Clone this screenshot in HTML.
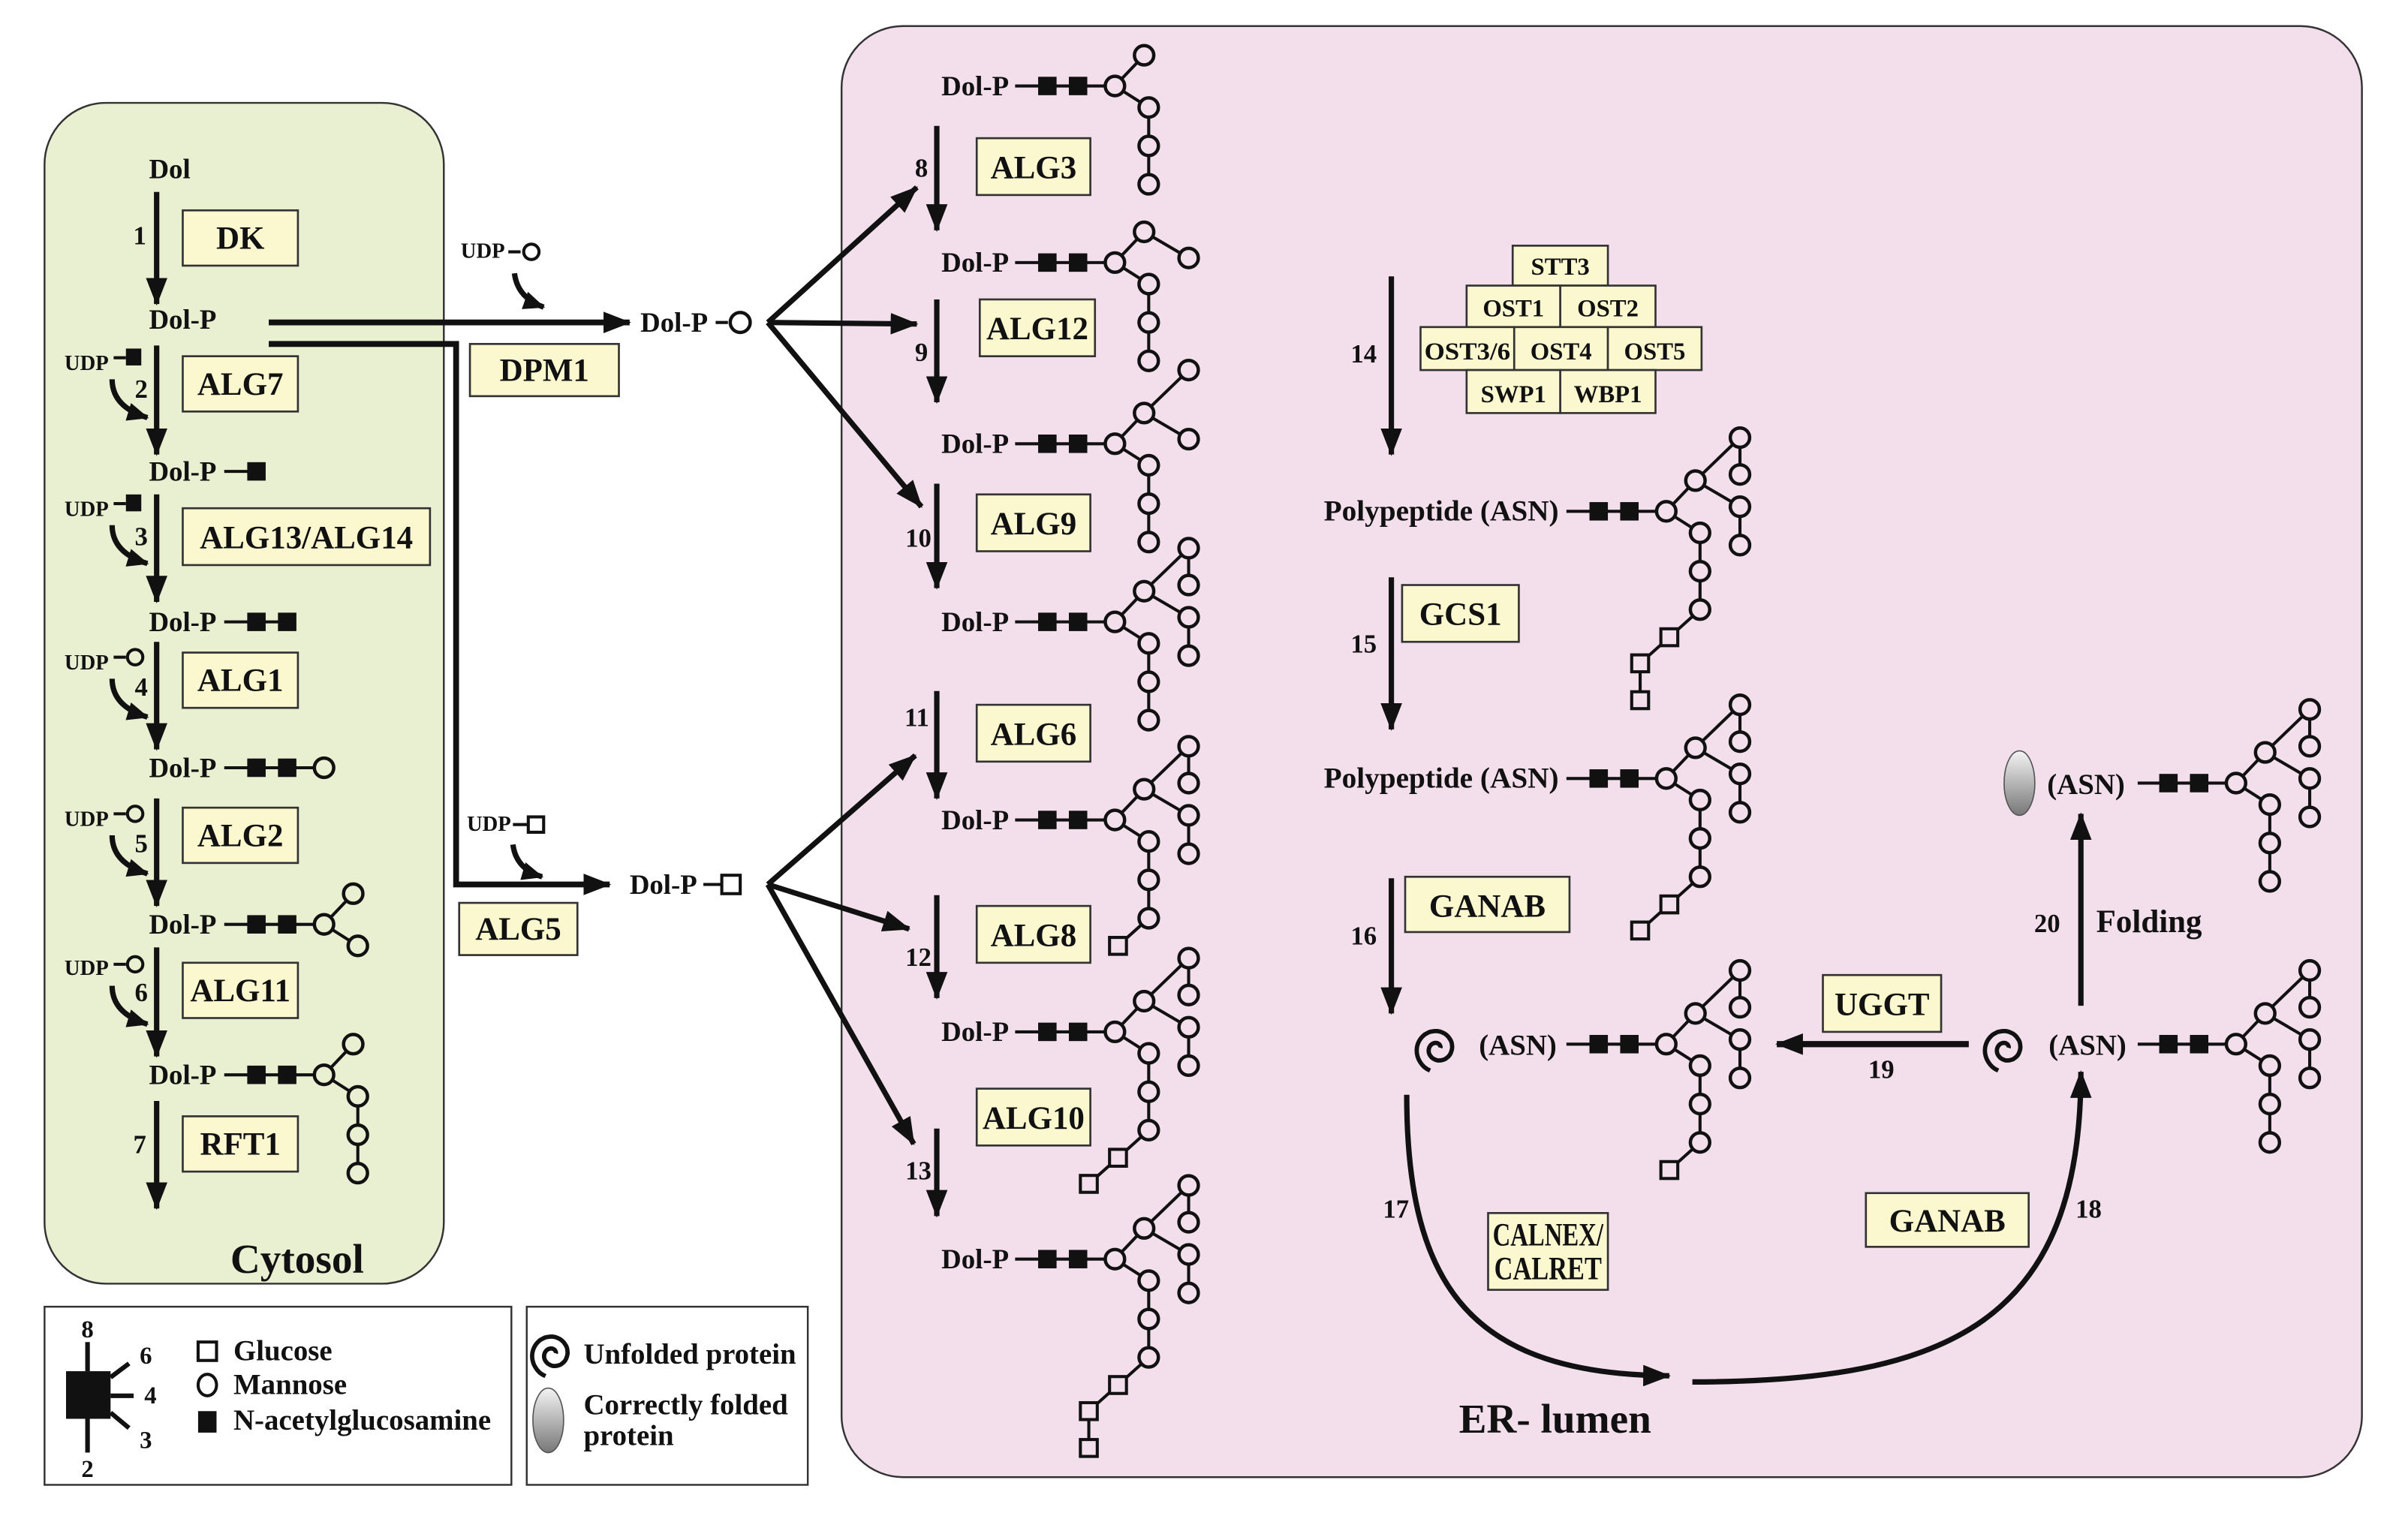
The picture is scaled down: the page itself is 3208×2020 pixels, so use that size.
<!DOCTYPE html>
<html><head><meta charset="utf-8">
<style>
html,body{margin:0;padding:0;background:#fff;}
svg{display:block;}
text{font-family:"Liberation Serif",serif;font-weight:bold;fill:#111;}
</style></head>
<body>
<svg id="s" width="3208" height="2020" viewBox="0 0 1568 987.3" preserveAspectRatio="none" xmlns="http://www.w3.org/2000/svg">
<defs>
<marker id="ah" markerUnits="userSpaceOnUse" markerWidth="20" markerHeight="14" refX="17" refY="7" orient="auto">
<path d="M0,0 L18,7 L0,14 z" fill="#111"/></marker>
<marker id="ahs" markerUnits="userSpaceOnUse" markerWidth="16" markerHeight="12" refX="13" refY="6" orient="auto">
<path d="M0,0 L14,6 L0,12 z" fill="#111"/></marker>
<linearGradient id="gr" x1="0" y1="0" x2="0" y2="1"><stop offset="0" stop-color="#f4f4f4"/><stop offset="1" stop-color="#777"/></linearGradient>
</defs>
<rect x="0" y="0" width="1568" height="988" fill="#fff"/>
<rect x="29" y="67" width="260" height="769" rx="40" fill="#e9efd1" stroke="#333" stroke-width="1.2"/>
<rect x="548" y="17" width="990" height="945" rx="40" fill="#f2dfeb" stroke="#333" stroke-width="1.2"/>
<rect x="29" y="851" width="304" height="116" fill="#fff" stroke="#333" stroke-width="1.2"/>
<rect x="343" y="851" width="183" height="116" fill="#fff" stroke="#333" stroke-width="1.2"/>

<g id="g" stroke="#111" fill="none"></g>

<g fill="#fbf8cf" stroke="#333" stroke-width="1.3">
<rect x="119" y="137" width="75" height="36"/><rect x="119" y="232" width="75" height="36"/>
<rect x="119" y="331" width="161" height="37"/><rect x="119" y="425" width="75" height="36"/>
<rect x="119" y="526" width="75" height="36"/><rect x="119" y="627" width="75" height="36"/>
<rect x="119" y="727" width="75" height="36"/>
<rect x="306" y="224" width="97" height="34"/><rect x="299" y="588" width="77" height="34"/>
<rect x="636" y="90" width="74" height="37"/><rect x="638" y="195" width="75" height="37"/>
<rect x="636" y="322" width="74" height="37"/><rect x="636" y="459" width="74" height="37"/>
<rect x="636" y="590" width="74" height="37"/><rect x="636" y="709" width="74" height="37"/>
<rect x="985" y="160" width="62" height="26"/>
<rect x="955" y="186" width="61" height="27"/><rect x="1016" y="186" width="62" height="27"/>
<rect x="925" y="213" width="61" height="28"/><rect x="986" y="213" width="61" height="28"/><rect x="1047" y="213" width="61" height="28"/>
<rect x="955" y="241" width="61" height="28"/><rect x="1016" y="241" width="62" height="28"/>
<rect x="913" y="381" width="76" height="37"/><rect x="915" y="571" width="107" height="36"/>
<rect x="1187" y="635" width="77" height="37"/><rect x="969" y="790" width="78" height="50"/>
<rect x="1215" y="777" width="106" height="35"/>
</g>

<g font-size="21" text-anchor="middle">
<text x="156.5" y="162">DK</text><text x="156.5" y="257">ALG7</text>
<text x="199.5" y="357">ALG13/ALG14</text><text x="156.5" y="450">ALG1</text>
<text x="156.5" y="551">ALG2</text><text x="156.5" y="652">ALG11</text>
<text x="156.5" y="752">RFT1</text>
<text x="354.5" y="248">DPM1</text><text x="337.5" y="612">ALG5</text>
<text x="673" y="116">ALG3</text><text x="675.5" y="221">ALG12</text>
<text x="673" y="348">ALG9</text><text x="673" y="485">ALG6</text>
<text x="673" y="616">ALG8</text><text x="673" y="735">ALG10</text>
<text x="951" y="407">GCS1</text><text x="968.5" y="597">GANAB</text>
<text x="1225.5" y="661">UGGT</text>
<text x="1008" y="811" textLength="72" lengthAdjust="spacingAndGlyphs">CALNEX/</text>
<text x="1008" y="833" textLength="70" lengthAdjust="spacingAndGlyphs">CALRET</text>
<text x="1268" y="802">GANAB</text>
</g>
<g font-size="16" text-anchor="middle">
<text x="1016" y="179">STT3</text>
<text x="985.5" y="206">OST1</text><text x="1047" y="206">OST2</text>
<text x="955.5" y="234" textLength="56" lengthAdjust="spacingAndGlyphs">OST3/6</text><text x="1016.5" y="234">OST4</text><text x="1077.5" y="234">OST5</text>
<text x="985.5" y="262">SWP1</text><text x="1047" y="262">WBP1</text>
</g>

<g font-size="18">
<text x="97" y="116">Dol</text>
<text x="97" y="214">Dol-P</text><text x="97" y="313">Dol-P</text><text x="97" y="411">Dol-P</text>
<text x="97" y="506">Dol-P</text><text x="97" y="608">Dol-P</text><text x="97" y="706">Dol-P</text>
<text x="417" y="216">Dol-P</text><text x="410" y="582">Dol-P</text>
<text x="613" y="62">Dol-P</text><text x="613" y="177">Dol-P</text><text x="613" y="295">Dol-P</text>
<text x="613" y="411">Dol-P</text><text x="613" y="540">Dol-P</text><text x="613" y="678">Dol-P</text>
<text x="613" y="826">Dol-P</text>
</g>
<g font-size="19">
<text x="862" y="339" textLength="153" lengthAdjust="spacingAndGlyphs">Polypeptide (ASN)</text>
<text x="862" y="513" textLength="153" lengthAdjust="spacingAndGlyphs">Polypeptide (ASN)</text>
<text x="963" y="687">(ASN)</text><text x="1334" y="687">(ASN)</text><text x="1333" y="517">(ASN)</text>
</g>
<g font-size="14">
<text x="42" y="241">UDP</text><text x="42" y="336">UDP</text><text x="42" y="436">UDP</text>
<text x="42" y="538">UDP</text><text x="42" y="635">UDP</text>
<text x="300" y="168">UDP</text><text x="304" y="541">UDP</text>
</g>
<g font-size="17" text-anchor="middle">
<text x="91" y="159">1</text><text x="92" y="259">2</text><text x="92" y="355">3</text>
<text x="92" y="453">4</text><text x="92" y="555">5</text><text x="92" y="652">6</text>
<text x="91" y="751">7</text>
<text x="600" y="115">8</text><text x="600" y="235">9</text><text x="598" y="356">10</text>
<text x="597" y="473">11</text><text x="598" y="629">12</text><text x="598" y="768">13</text>
<text x="888" y="236">14</text><text x="888" y="425">15</text><text x="888" y="615">16</text>
<text x="909" y="793">17</text><text x="1360" y="793">18</text><text x="1225" y="702">19</text>
<text x="1333" y="607">20</text>
</g>
<text x="1365" y="607" font-size="21">Folding</text>
<text x="150" y="829" font-size="27">Cytosol</text>
<text x="950" y="933" font-size="27">ER- lumen</text>

<g font-size="19">
<text x="152" y="886">Glucose</text><text x="152" y="908">Mannose</text><text x="152" y="931">N-acetylglucosamine</text>
<text x="380" y="888">Unfolded protein</text><text x="380" y="921">Correctly folded</text><text x="380" y="941">protein</text>
</g>
<g font-size="16" text-anchor="middle">
<text x="57" y="871">8</text><text x="57" y="962">2</text><text x="95" y="888">6</text><text x="98" y="914">4</text><text x="95" y="943">3</text>
</g>
<rect x="43" y="893" width="29" height="31" fill="#111"/>
<g stroke="#111" stroke-width="3" fill="none">
<line x1="57" y1="874" x2="57" y2="893"/><line x1="57" y1="924" x2="57" y2="946"/>
<line x1="72" y1="897" x2="84" y2="888"/><line x1="72" y1="909" x2="87" y2="909"/><line x1="72" y1="920" x2="84" y2="930"/>
</g>
<rect x="129" y="874" width="12" height="12" fill="#fff" stroke="#111" stroke-width="2"/>
<ellipse cx="135" cy="902" rx="6" ry="7" fill="#fff" stroke="#111" stroke-width="2"/>
<rect x="129" y="919" width="12" height="14" fill="#111"/>
<ellipse cx="357" cy="925" rx="10" ry="21" fill="url(#gr)" stroke="#555" stroke-width="0.8"/>
<ellipse cx="1315" cy="510" rx="10" ry="21" fill="url(#gr)" stroke="#555" stroke-width="0.8"/>
</svg>
<script>
var NS="http://www.w3.org/2000/svg",G=document.getElementById("g");
function el(t,a){var e=document.createElementNS(NS,t);for(var k in a)e.setAttribute(k,a[k]);G.appendChild(e);return e;}
function ln(x1,y1,x2,y2,w,m){var a={x1:x1,y1:y1,x2:x2,y2:y2,"stroke-width":w||2};if(m)a["marker-end"]="url(#"+m+")";return el("line",a);}
function pth(d,w,m){var a={d:d,"stroke-width":w||3.5};if(m)a["marker-end"]="url(#"+m+")";return el("path",a);}
var P={A:[19,-20],B:[48,-48],B2:[48,-24],C:[48,-3],C2:[48,22],D:[22,14],E:[22,39],F:[22,64],G1:[2,82],G2:[-17,99],G3:[-17,123]};
var PAR={A:"O",B:"A",B2:"B",C:"A",C2:"C",D:"O",E:"D",F:"E",G1:"F",G2:"G1",G3:"G2"};
function gly(cx,cy,lineStart,nG,mans,glc,bg){
  bg=bg||"#f2dfeb";
  var lineEnd = mans.length? cx : (nG==2? cx-24 : cx-44);
  ln(lineStart,cy,lineEnd,cy,2);
  var list=[];
  if(mans.indexOf("O")>=0){mans.forEach(function(m){if(m!="O")list.push(m);});}
  var gl=["G1","G2","G3"].slice(0,glc);
  var all=list.concat(gl);
  all.forEach(function(k){var p=P[k],q=PAR[k]=="O"?[0,0]:P[PAR[k]];ln(cx+q[0],cy+q[1],cx+p[0],cy+p[1],2);});
  for(var i=0;i<nG;i++){var x=cx-44+20*i;el("rect",{x:x-6,y:cy-6,width:12,height:12,fill:"#111","stroke-width":0});}
  if(mans.indexOf("O")>=0) el("circle",{cx:cx,cy:cy,r:6.3,fill:bg,"stroke-width":2.2});
  list.forEach(function(k){el("circle",{cx:cx+P[k][0],cy:cy+P[k][1],r:6.3,fill:bg,"stroke-width":2.2});});
  gl.forEach(function(k){el("rect",{x:cx+P[k][0]-5.5,y:cy+P[k][1]-5.5,width:11,height:11,fill:bg,"stroke-width":2});});
}
var GRN="#e9efd1";
gly(211,307,146,1,[],0,GRN);
gly(211,405,146,2,[],0,GRN);
gly(211,500,146,2,["O"],0,GRN);
gly(211,602,146,2,["O","A","D"],0,GRN);
gly(211,700,146,2,["O","A","D","E","F"],0,GRN);
var M5=["O","A","D","E","F"],M6=M5.concat(["C"]),M7=M6.concat(["B"]),M9=M7.concat(["B2","C2"]);
gly(726,56,661,2,M5,0);gly(726,171,661,2,M6,0);gly(726,289,661,2,M7,0);
gly(726,405,661,2,M9,0);gly(726,534,661,2,M9,1);gly(726,672,661,2,M9,2);gly(726,820,661,2,M9,3);
gly(1085,333,1020,2,M9,3);gly(1085,507,1020,2,M9,2);gly(1085,680,1020,2,M9,1);
gly(1456,680,1392,2,M9,0);gly(1456,510,1392,2,M9,0);
[[125,198],[225,296],[322,392],[418,488],[520,590],[617,688],[717,787]].forEach(function(a){ln(102,a[0],102,a[1],3.5,"ah");});
[[237,"s"],[332,"s"],[432,"c"],[534,"c"],[632,"c"]].forEach(function(u){
  var y=u[0];ln(74,y-4,82,y-4,2);
  if(u[1]=="s")el("rect",{x:82,y:y-10,width:10,height:11,fill:"#111","stroke-width":0});
  else el("circle",{cx:88,cy:y-4,r:5,fill:GRN,"stroke-width":2});
  pth("M73,"+(y+10)+" Q73,"+(y+28)+" 96,"+(y+35),3.5,"ahs");
});
ln(331,164,339,164,2);el("circle",{cx:346,cy:164,r:5,fill:"#fff","stroke-width":2});
pth("M335,178 Q337,194 354,200",3.5,"ahs");
ln(334,537,344,537,2);el("rect",{x:344,y:532,width:10,height:10,fill:"#fff","stroke-width":2});
pth("M334,550 Q336,566 353,571",3.5,"ahs");
ln(175,210,410,210,3.8,"ah");
pth("M175,224 L297,224 L297,576 L397,576",3.8,"ah");
ln(466,210,474,210,2);el("circle",{cx:482,cy:210,r:6.5,fill:"#fff","stroke-width":2.2});
ln(458,576,470,576,2);el("rect",{x:470,y:570,width:12,height:12,fill:"#fff","stroke-width":2});
[[597,122],[597,211],[600,330]].forEach(function(p){ln(500,210,p[0],p[1],3.5,"ah");});
[[596,492],[592,605],[595,745]].forEach(function(p){ln(500,576,p[0],p[1],3.5,"ah");});
[[82,150],[195,262],[315,383],[450,520],[583,650],[735,792]].forEach(function(a){ln(610,a[0],610,a[1],3.5,"ah");});
ln(906,180,906,296,3.5,"ah");ln(906,376,906,475,3.5,"ah");ln(906,572,906,660,3.5,"ah");
ln(1282,680,1157,680,4,"ah");
ln(1355,655,1355,530,3.5,"ah");
pth("M916,713 C916,840 960,895 1087,896",3.5,"ah");
pth("M1102,900 C1270,900 1355,860 1355,698",3.5,"ah");
function spiral(cx,cy){var d="",t,r;for(var i=0;i<=70;i++){t=i/70*3.3*Math.PI;r=2+13*i/70;var x=cx+r*Math.cos(t+0.3),y=cy-r*Math.sin(t+0.3);d+=(i?"L":"M")+x.toFixed(1)+","+y.toFixed(1);}pth(d,2.8);}
spiral(936,683);spiral(1306,683);spiral(360,882);
</script>
</body></html>
